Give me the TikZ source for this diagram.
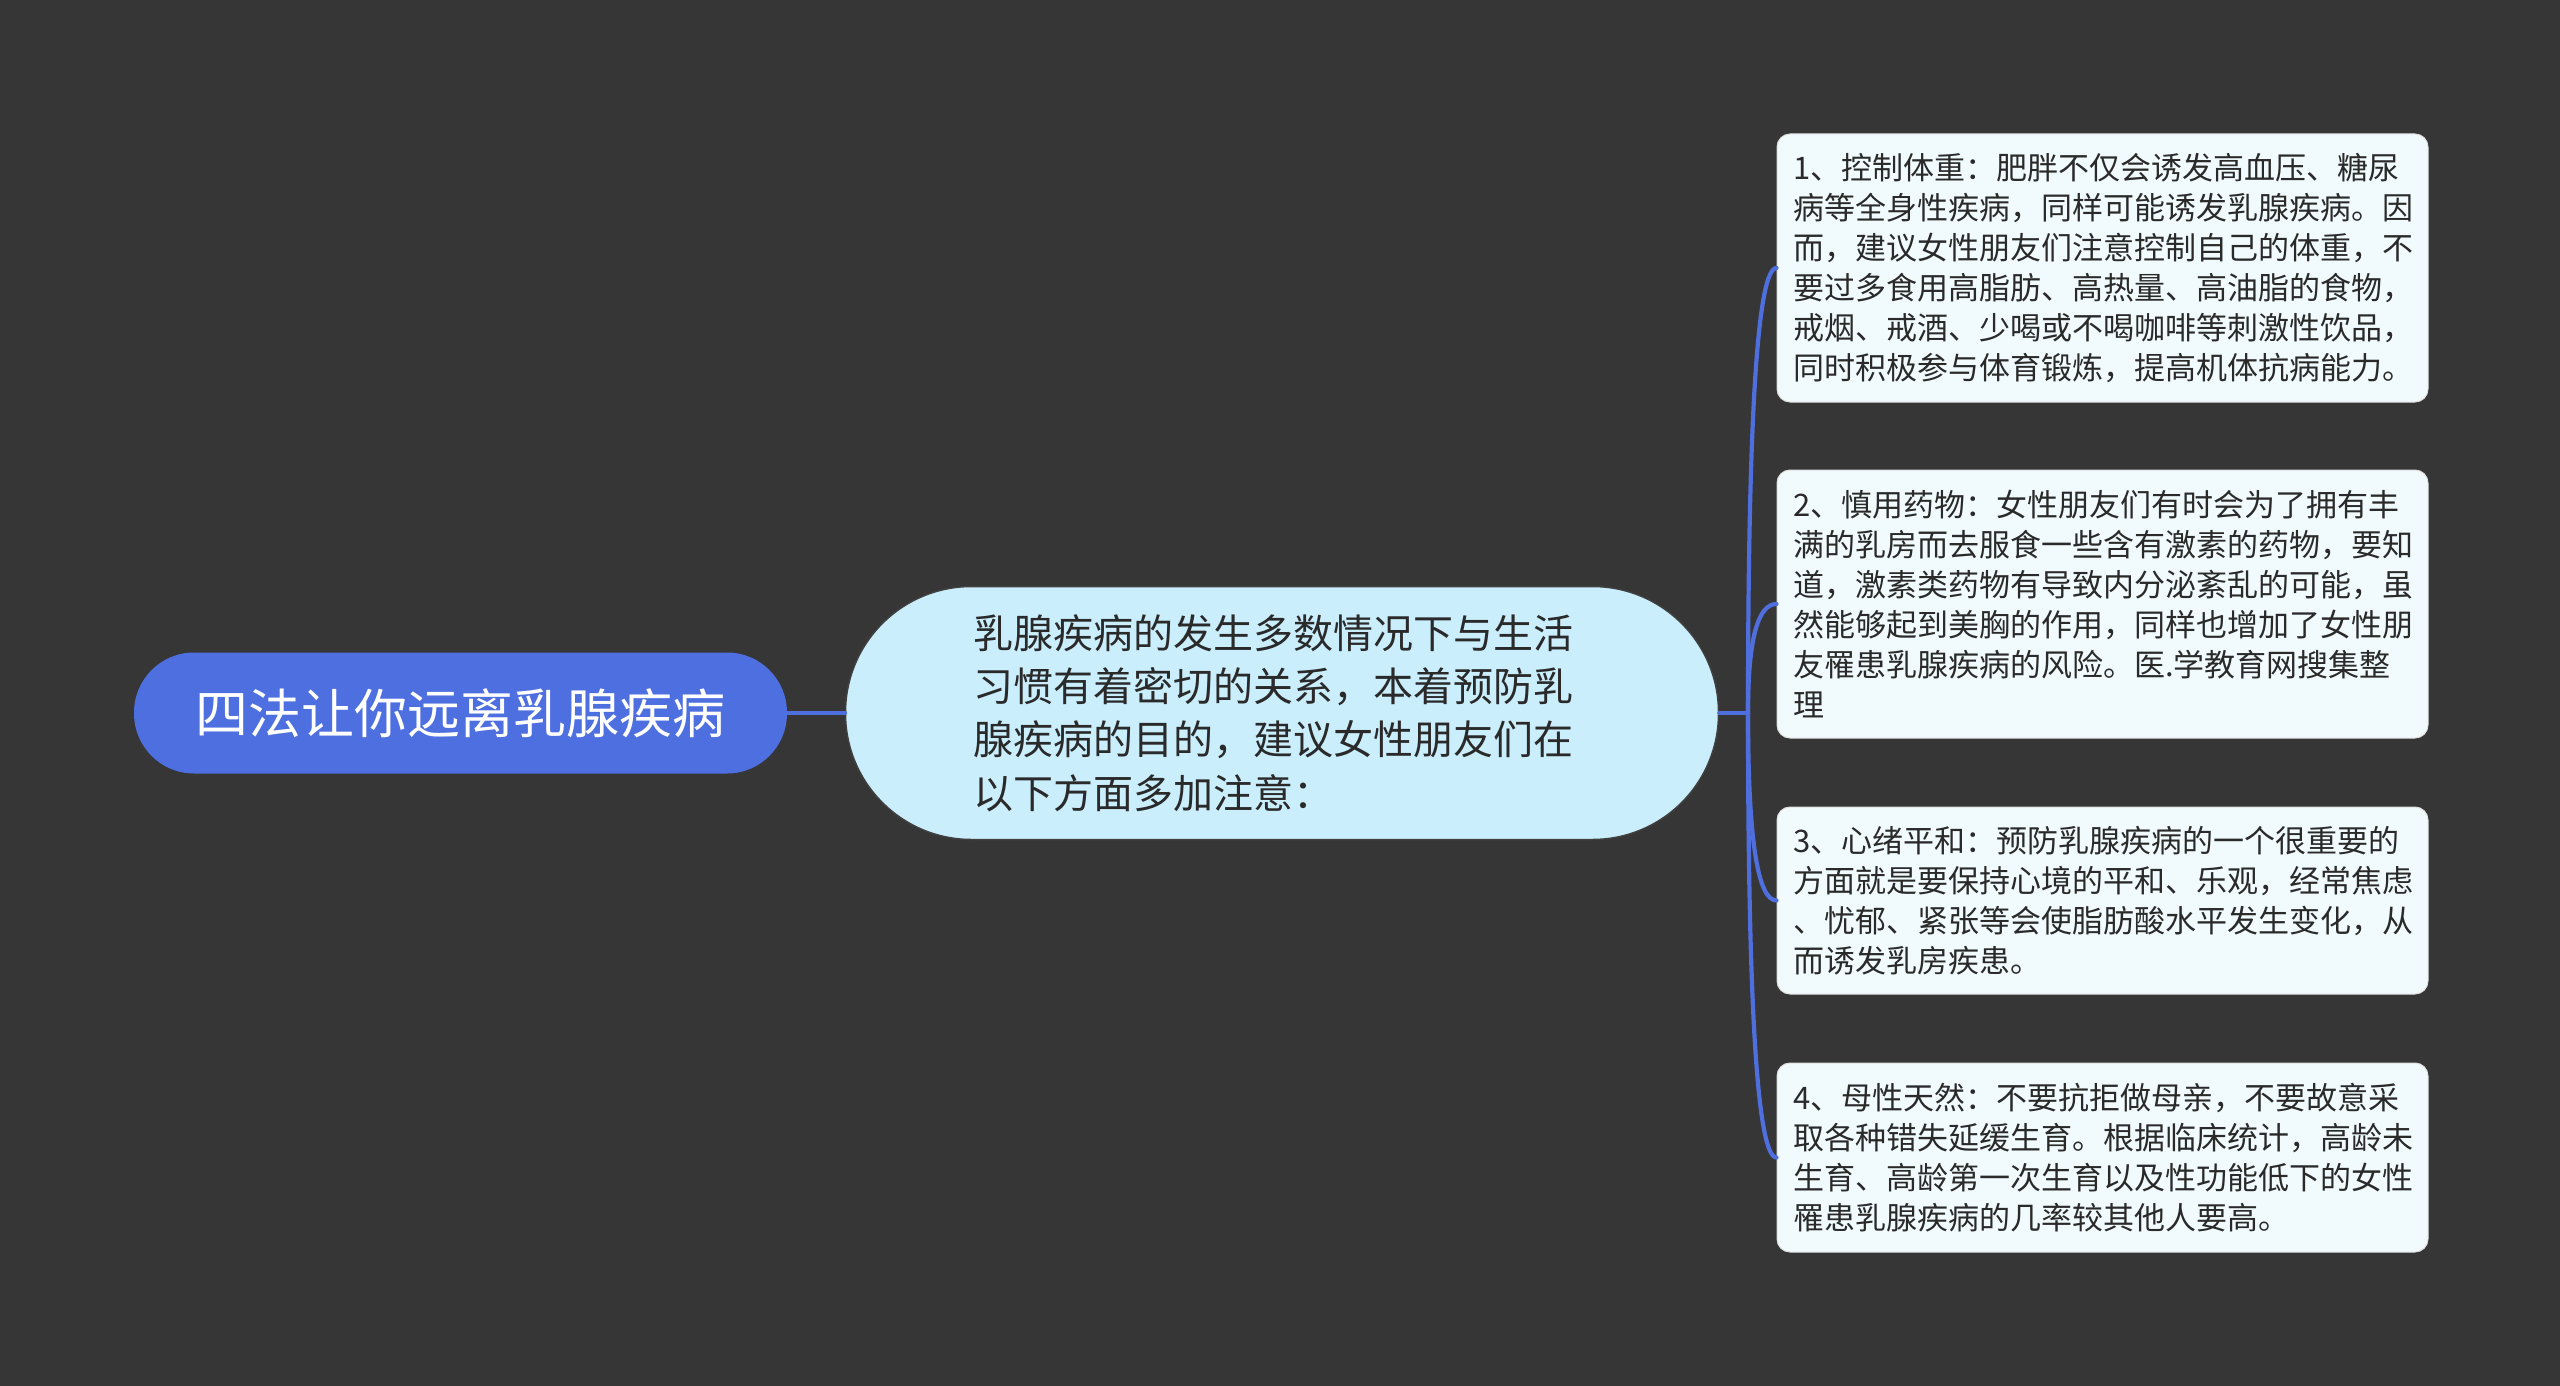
\documentclass[tikz,border=0pt]{standalone}
\usepackage{fontspec}
\newfontfamily\cjk{Noto Sans CJK SC}
\usetikzlibrary{calc}
\definecolor{bgc}{HTML}{363636}
\definecolor{rootc}{HTML}{4E6FE0}
\definecolor{linec}{HTML}{4F6FDF}
\definecolor{ctrc}{HTML}{CAEEFC}
\definecolor{boxc}{HTML}{F1FBFD}
\definecolor{txtc}{HTML}{2A2A2A}
\tikzset{
  rootnode/.style={rectangle, rounded corners=60, fill=rootc, minimum width=653, minimum height=121, inner sep=0, text=white, font=\cjk\fontsize{53}{60}\selectfont},
  ctrnode/.style={rectangle, rounded corners=126, fill=ctrc, draw=black!75, line width=1.5, minimum width=873, minimum height=253, inner sep=0, text width=618, align=left, text=txtc, font=\cjk\fontsize{40}{53.4}\selectfont},
  leafnode/.style={rectangle, rounded corners=13, fill=boxc, draw=black!12, line width=1, minimum width=651, inner xsep=16, inner ysep=0, text width=619, align=left, text=txtc, font=\cjk\fontsize{31}{40}\selectfont},
  conn/.style={draw=linec, line width=4.2, line cap=round}
}
\begin{document}
\begin{tikzpicture}[x=1pt,y=-1pt]
\useasboundingbox (0,0) rectangle (2560,1386);
\fill[bgc] (0,0) rectangle (2560,1386);

\node[rootnode] (root) at (460.5,713) {四法让你远离乳腺疾病};
\node[ctrnode] (ctr) at (1282,713) {乳腺疾病的发生多数情况下与生活\\习惯有着密切的关系，本着预防乳\\腺疾病的目的，建议女性朋友们在\\以下方面多加注意：};

\node[leafnode, minimum height=268] (b1) at (2102.5,268) {1、控制体重：肥胖不仅会诱发高血压、糖尿\\病等全身性疾病，同样可能诱发乳腺疾病。因\\而，建议女性朋友们注意控制自己的体重，不\\要过多食用高脂肪、高热量、高油脂的食物，\\戒烟、戒酒、少喝或不喝咖啡等刺激性饮品，\\同时积极参与体育锻炼，提高机体抗病能力。};
\node[leafnode, minimum height=268] (b2) at (2102.5,604) {2、慎用药物：女性朋友们有时会为了拥有丰\\满的乳房而去服食一些含有激素的药物，要知\\道，激素类药物有导致内分泌紊乱的可能，虽\\然能够起到美胸的作用，同样也增加了女性朋\\友罹患乳腺疾病的风险。医.学教育网搜集整\\理};
\node[leafnode, minimum height=187] (b3) at (2102.5,900.5) {3、心绪平和：预防乳腺疾病的一个很重要的\\方面就是要保持心境的平和、乐观，经常焦虑\\、忧郁、紧张等会使脂肪酸水平发生变化，从\\而诱发乳房疾患。};
\node[leafnode, minimum height=189] (b4) at (2102.5,1157.5) {4、母性天然：不要抗拒做母亲，不要故意采\\取各种错失延缓生育。根据临床统计，高龄未\\生育、高龄第一次生育以及性功能低下的女性\\罹患乳腺疾病的几率较其他人要高。};

\coordinate (j) at (1748,713);
\begin{scope}[on background layer/.try]
\draw[conn, line width=4.8] (root.east) -- (ctr.west);
\draw[conn] (ctr.east) -- (j);
\foreach \b in {b1,b2,b3,b4}{
  \draw[conn] (j) .. controls ($(j)!2/3!(j |- \b.west)$) and ($(\b.west)!2/3!(j |- \b.west)$) .. (\b.west);
}
\end{scope}
\end{tikzpicture}
\end{document}
